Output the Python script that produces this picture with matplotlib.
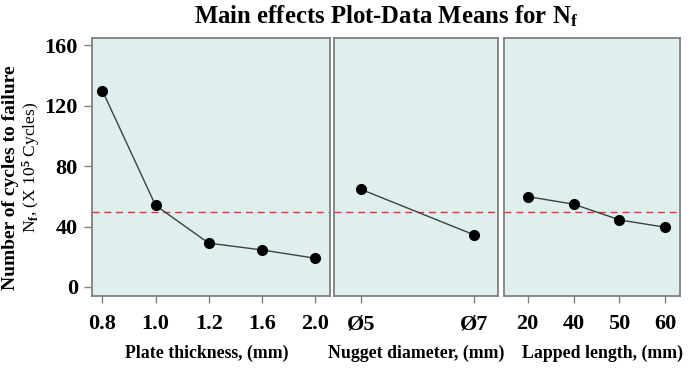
import matplotlib
matplotlib.use("Agg")
import matplotlib.pyplot as plt

# ---------------- data ----------------
thickness_labels = ["0.8", "1.0", "1.2", "1.6", "2.0"]
thickness_nf = [130.0, 54.0, 29.0, 24.5, 19.0]

nugget_labels = ["Ø5", "Ø7"]
nugget_nf = [64.7, 34.4]

lapped_labels = ["20", "40", "50", "60"]
lapped_nf = [59.8, 54.8, 44.4, 39.5]

grand_mean = 49.5
y_ticks = [0, 40, 80, 120, 160]

# ---------------- style ----------------
plt.rcParams["font.family"] = ["Liberation Serif", "DejaVu Serif"]
plt.rcParams["font.weight"] = "bold"
plt.rcParams["mathtext.fontset"] = "custom"
plt.rcParams["mathtext.rm"] = "Liberation Serif"
plt.rcParams["mathtext.bf"] = "Liberation Serif:bold"
plt.rcParams["mathtext.it"] = "Liberation Serif:italic"

BG = "#dfeff0"
FRAME = "#808080"
W, H = 692, 369

fig = plt.figure(figsize=(W / 100, H / 100), dpi=100)


def box(l, r, t=37.7, b=296.0):
    return [l / W, 1 - b / H, (r - l) / W, (b - t) / H]


# rect, tick labels, values, xlim, axis label, label centre x (px)
panels = [
    (box(91.7, 330.0), thickness_labels, thickness_nf, (-0.2, 4.28),
     "Plate thickness, (mm)", 207),
    (box(334.3, 497.7), nugget_labels, nugget_nf, (-0.232, 1.205),
     "Nugget diameter, (mm)", 416),
    (box(504.3, 680.0), lapped_labels, lapped_nf, (-0.51, 3.32),
     "Lapped length, (mm)", 602),
]

for i, (rect, labels, vals, xlim, xlabel, lx) in enumerate(panels):
    ax = fig.add_axes(rect)
    ax.set_facecolor(BG)
    xs = list(range(len(labels)))
    ax.plot(xs, vals, color="#404040", lw=1.0, marker="o", ms=7,
            mfc="black", mec="black", zorder=3)
    ax.axhline(grand_mean, color="#e83030", lw=1.0, ls=(0, (5, 3.5)), zorder=2)
    ax.set_xlim(*xlim)
    ax.set_ylim(-6, 165)
    ax.set_xticks(xs)
    ax.set_xticklabels(labels, fontsize=16, fontweight="bold")
    for s in ax.spines.values():
        s.set_color(FRAME)
        s.set_linewidth(1.3)
    ax.tick_params(axis="x", direction="out", length=5, width=1,
                   color=FRAME, pad=8)
    if i == 0:
        ax.set_yticks(y_ticks)
        ax.set_yticklabels([str(v) for v in y_ticks], fontsize=16, fontweight="bold")
        ax.tick_params(axis="y", direction="out", length=6, width=1,
                       color=FRAME, pad=4)
    else:
        ax.set_yticks([])
    fig.text(lx / W, 1 - 353 / H, xlabel, ha="center", va="center",
             fontsize=12.8, fontweight="bold")

# y label, two lines
fig.text(11 / W, 1 - 178 / H, "Number of cycles to failure", rotation=90,
         ha="center", va="center", fontsize=14, fontweight="bold")
fig.text(31 / W, 1 - 167 / H, r"N$_\mathrm{f}$, (X 10$^5$ Cycles)", rotation=90,
         ha="center", va="center", fontsize=12.5, fontweight="normal")

fig.text(386 / W, 1 - 16 / H, r"Main effects Plot-Data Means for N$_\mathbf{f}$",
         ha="center", va="center", fontsize=17.8, fontweight="bold")

fig.savefig("out.png", dpi=100, facecolor="white")
